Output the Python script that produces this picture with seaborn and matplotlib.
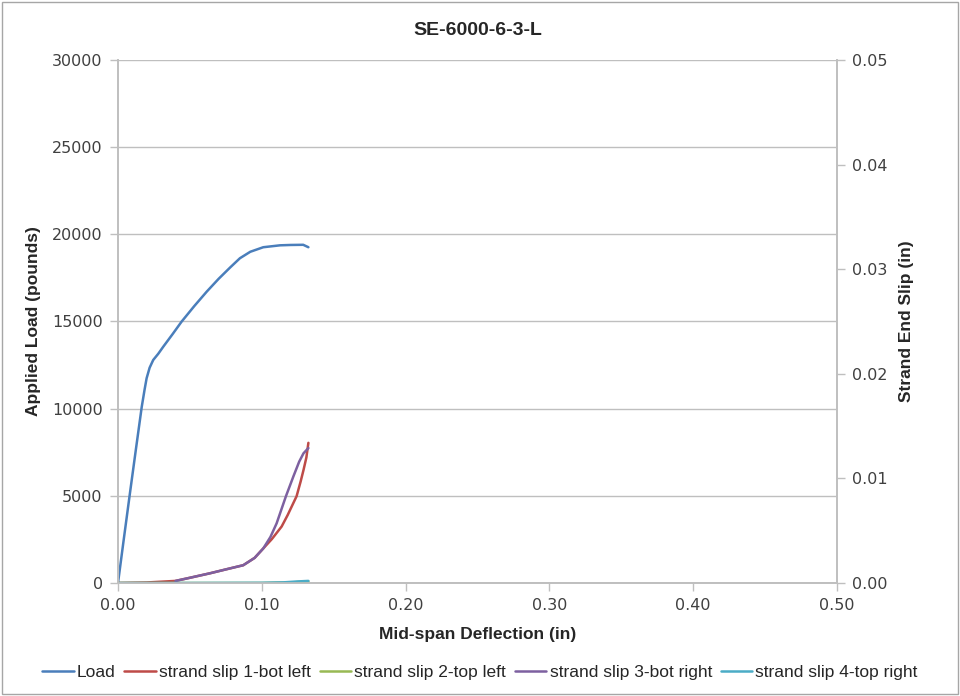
import matplotlib
matplotlib.use("Agg")
import matplotlib.pyplot as plt
import matplotlib.patches as mpatches
import pandas as pd
import seaborn as sns

# values
load_defl = [0.000, 0.004, 0.0083, 0.0125, 0.0165, 0.0185, 0.0199, 0.0220, 0.0245, 0.0280,
             0.0315, 0.0380, 0.0442, 0.053, 0.0617, 0.070, 0.078, 0.0848, 0.092, 0.101,
             0.1127, 0.120, 0.1288, 0.1324]
load_lb = [0, 2500, 5150, 7700, 10100, 11100, 11745, 12350, 12794, 13150,
           13557, 14280, 14990, 15880, 16713, 17450, 18100, 18630, 19000, 19260,
           19370, 19390, 19400, 19260]

slip1_defl = [0.0, 0.02, 0.04, 0.05, 0.064, 0.075, 0.0871, 0.095, 0.101, 0.107,
              0.1138, 0.118, 0.1242, 0.127, 0.129, 0.131, 0.1324]
slip1_in = [0.0, 0.00005, 0.0002, 0.0005, 0.00093, 0.0013, 0.0017, 0.0024, 0.0033, 0.0042,
            0.0054, 0.0065, 0.0083, 0.0097, 0.0108, 0.0120, 0.0134]

slip2_defl = [0.0, 0.05, 0.10, 0.12, 0.1324]
slip2_in = [0.0, 0.0, 0.0, 0.00005, 0.00015]

slip3_defl = [0.040, 0.05, 0.064, 0.075, 0.0871, 0.095, 0.101, 0.106, 0.1103, 0.1168,
              0.122, 0.126, 0.129, 0.1324]
slip3_in = [0.0002, 0.0005, 0.00093, 0.0013, 0.0017, 0.0024, 0.0033, 0.0044, 0.0057, 0.0083,
            0.0102, 0.0116, 0.0124, 0.0129]

slip4_defl = [0.0, 0.05, 0.10, 0.115, 0.125, 0.1324]
slip4_in = [0.0, 0.0, 0.00002, 0.00006, 0.00015, 0.0002]

series_names = ["Load", "strand slip 1-bot left", "strand slip 2-top left",
                "strand slip 3-bot right", "strand slip 4-top right"]
colors = ["#4a7ebb", "#be4b48", "#98b954", "#7d60a0", "#4bacc6"]

sns.set_theme(style="white")
plt.rcParams["font.family"] = ["DejaVu Sans"]
label_font = ["Liberation Sans", "DejaVu Sans"]
gray = "#bfbfbf"

fig, ax = plt.subplots(figsize=(9.6, 6.96), dpi=100)
fig.subplots_adjust(left=118 / 960, right=837 / 960, top=1 - 60 / 696, bottom=1 - 583 / 696)
ax2 = ax.twinx()

load_df = pd.DataFrame({"defl": load_defl, "val": load_lb})
sns.lineplot(data=load_df, x="defl", y="val", ax=ax, color=colors[0], lw=1.8,
             sort=False, estimator=None, label=series_names[0], legend=False)

slip_sets = [(slip1_defl, slip1_in), (slip2_defl, slip2_in),
             (slip3_defl, slip3_in), (slip4_defl, slip4_in)]
for i, (xs, ys) in enumerate(slip_sets, start=1):
    df = pd.DataFrame({"defl": xs, "val": ys})
    sns.lineplot(data=df, x="defl", y="val", ax=ax2, color=colors[i], lw=1.8,
                 sort=False, estimator=None, label=series_names[i], legend=False)

ax.set_xlim(0, 0.5)
ax.set_ylim(0, 30000)
ax2.set_ylim(0, 0.05)
ax.set_xticks([0, 0.1, 0.2, 0.3, 0.4, 0.5])
ax.set_xticklabels([f"{v:.2f}" for v in [0, 0.1, 0.2, 0.3, 0.4, 0.5]])
ax.set_yticks(range(0, 30001, 5000))
ax2.set_yticks([0, 0.01, 0.02, 0.03, 0.04, 0.05])
ax2.set_yticklabels([f"{v:.2f}" for v in [0, 0.01, 0.02, 0.03, 0.04, 0.05]])

ax.grid(axis="y", color=gray, lw=1)
ax.grid(axis="x", visible=False)
ax2.grid(False)
for a in (ax, ax2):
    a.tick_params(labelsize=11.5, colors="#404040", length=6, width=1,
                  direction="out", pad=5)
    for s in a.spines.values():
        s.set_color(gray)
    a.spines["top"].set_visible(False)
ax.tick_params(axis="both", color=gray)
ax2.tick_params(axis="y", color=gray)
ax.tick_params(axis="y", left=True)
ax.tick_params(axis="x", bottom=True)
ax2.tick_params(axis="y", right=True)

ax.set_title("SE-6000-6-3-L", fontsize=14, fontweight="bold", family=label_font,
             pad=18)
ax.set_xlabel("Mid-span Deflection (in)", fontsize=12.5, fontweight="bold",
              family=label_font, labelpad=10)
ax.set_ylabel("Applied Load (pounds)", fontsize=12.5, fontweight="bold",
              family=label_font, labelpad=8)
ax2.set_ylabel("Strand End Slip (in)", fontsize=12.5, fontweight="bold",
               family=label_font, labelpad=8)

handles = ax.get_lines()[:1] + ax2.get_lines()[:4]
leg = fig.legend(handles, series_names, loc="center", bbox_to_anchor=(0.5, 1 - 672 / 696),
                 ncol=5, frameon=False, handlelength=1.8, handletextpad=0.2,
                 columnspacing=0.5, prop={"family": label_font, "size": 12.5})

fig.patches.append(mpatches.Rectangle((0.002, 0.003), 0.996, 0.994, transform=fig.transFigure,
                                      fill=False, edgecolor="#a6a6a6", lw=1))

fig.savefig("out.png", dpi=100)
